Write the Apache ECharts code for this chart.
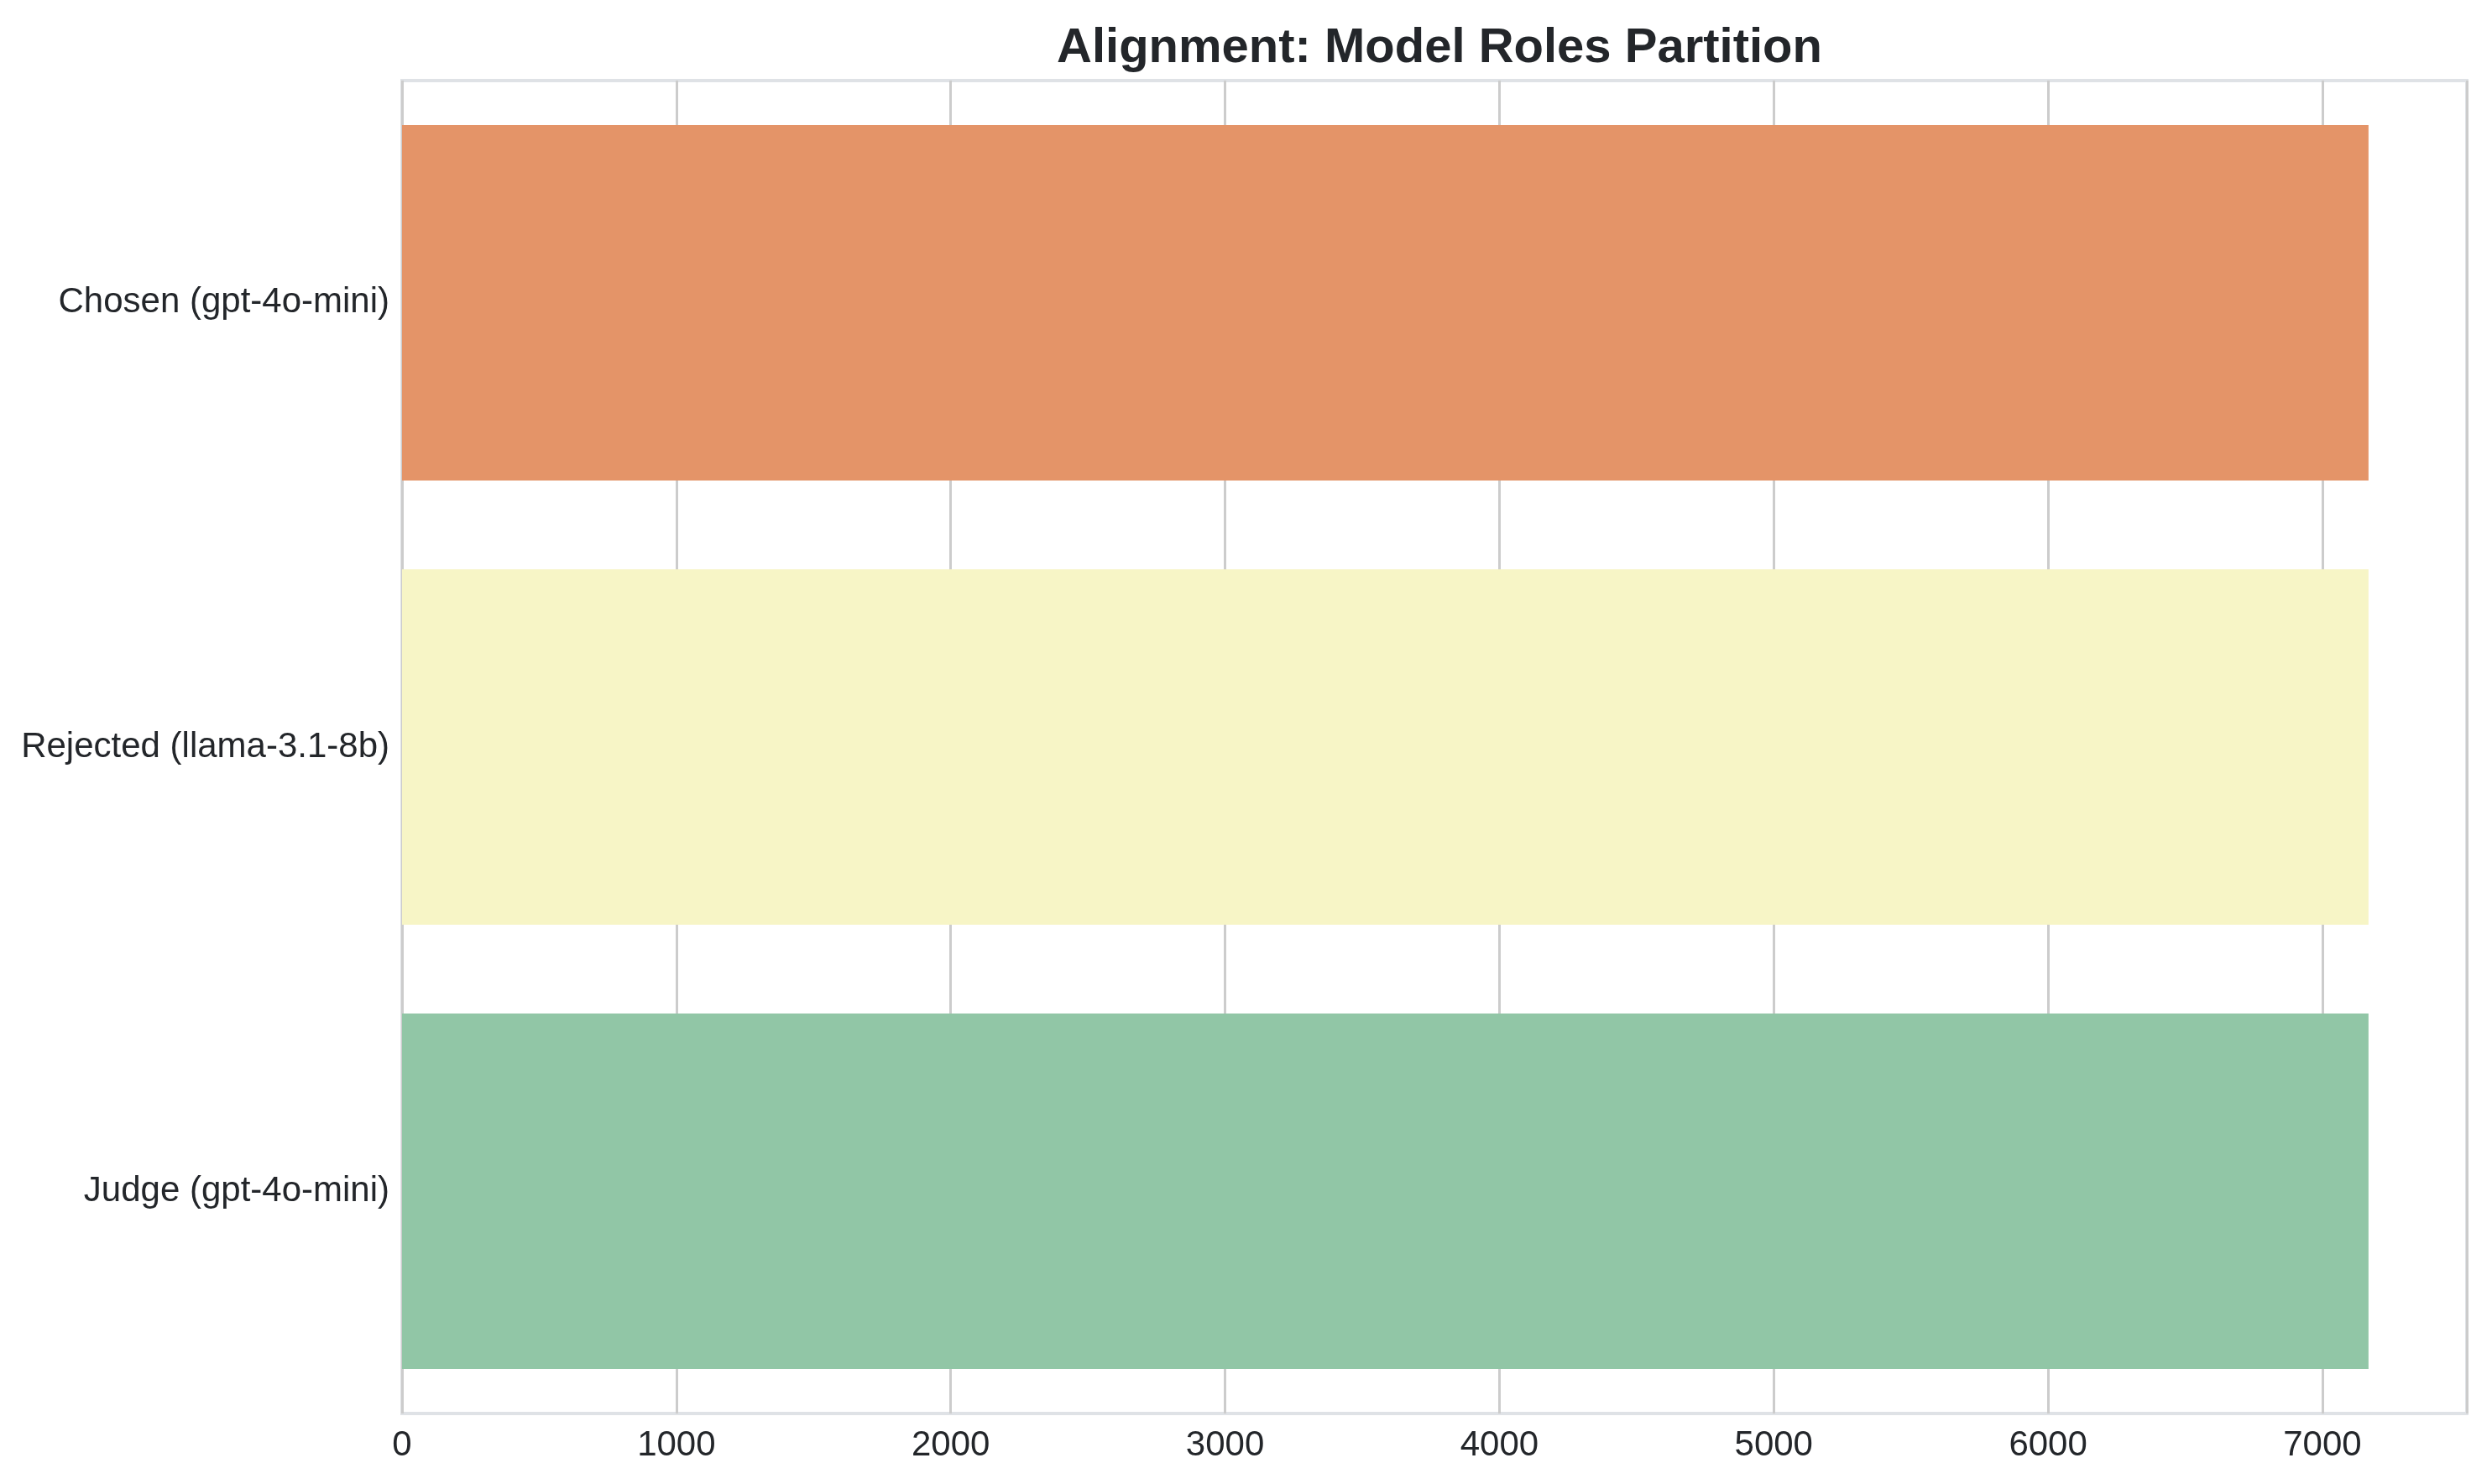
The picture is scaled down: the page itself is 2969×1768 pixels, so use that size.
<!DOCTYPE html>
<html>
<head>
<meta charset="utf-8">
<script src="https://cdn.jsdelivr.net/npm/echarts@6/dist/echarts.min.js"></script>
<style>
  html, body { margin: 0; padding: 0; background: #ffffff; }
  #chart { width: 2969px; height: 1768px; }
</style>
</head>
<body>
<div id="chart"></div>
<script>
// model roles, top to bottom
var roles = ['Chosen (gpt-4o-mini)', 'Rejected (llama-3.1-8b)', 'Judge (gpt-4o-mini)'];
var counts = [7168, 7168, 7168];
var xTicks = [0, 1000, 2000, 3000, 4000, 5000, 6000, 7000];

var palette = ['#e49468', '#f7f5c6', '#91c6a6'];
var textColor = '#23262a';
var fontFam = '"Liberation Sans", Arial, Helvetica, sans-serif';

var barData = [];
for (var i = 0; i < roles.length; i++) {
  barData.push({ value: counts[i], itemStyle: { color: palette[i] } });
}

// matplotlib style 5% margin on the right
var xMax = Math.max.apply(null, counts) * 1.05;

var myChart = echarts.init(document.getElementById('chart'), null, { renderer: 'canvas' });
var option = {
  backgroundColor: '#ffffff',
  animation: false,
  title: {
    text: 'Alignment: Model Roles Partition',
    left: 1710,
    textAlign: 'center',
    top: 24,
    textStyle: {
      fontFamily: fontFam,
      fontSize: 58,
      fontWeight: 'bold',
      color: textColor
    }
  },
  grid: {
    left: 479,
    right: 2969 - 2939,
    top: 96,
    bottom: 1768 - 1684,
    show: true,
    borderColor: '#dfe2e6',
    borderWidth: 4,
    backgroundColor: 'transparent',
    containLabel: false
  },
  xAxis: {
    type: 'value',
    min: 0,
    max: xMax,
    interval: 1000,
    axisLine: { show: false },
    axisTick: { show: false },
    splitLine: { show: true, lineStyle: { color: '#cccccc', width: 3 } },
    axisLabel: {
      show: true,
      showMaxLabel: false,
      margin: 17,
      fontFamily: fontFam,
      fontSize: 42,
      color: textColor,
      formatter: function (v) {
        return xTicks.indexOf(v) > -1 ? String(v) : '';
      }
    }
  },
  yAxis: {
    type: 'category',
    data: roles,
    inverse: true,
    axisLine: { show: false },
    axisTick: { show: false },
    splitLine: { show: false },
    axisLabel: {
      margin: 15,
      fontFamily: fontFam,
      fontSize: 42,
      color: textColor
    }
  },
  series: [
    {
      name: 'count',
      type: 'bar',
      data: barData,
      barCategoryGap: '20%',
      z: 3
    }
  ]
};
myChart.setOption(option);
</script>
</body>
</html>
